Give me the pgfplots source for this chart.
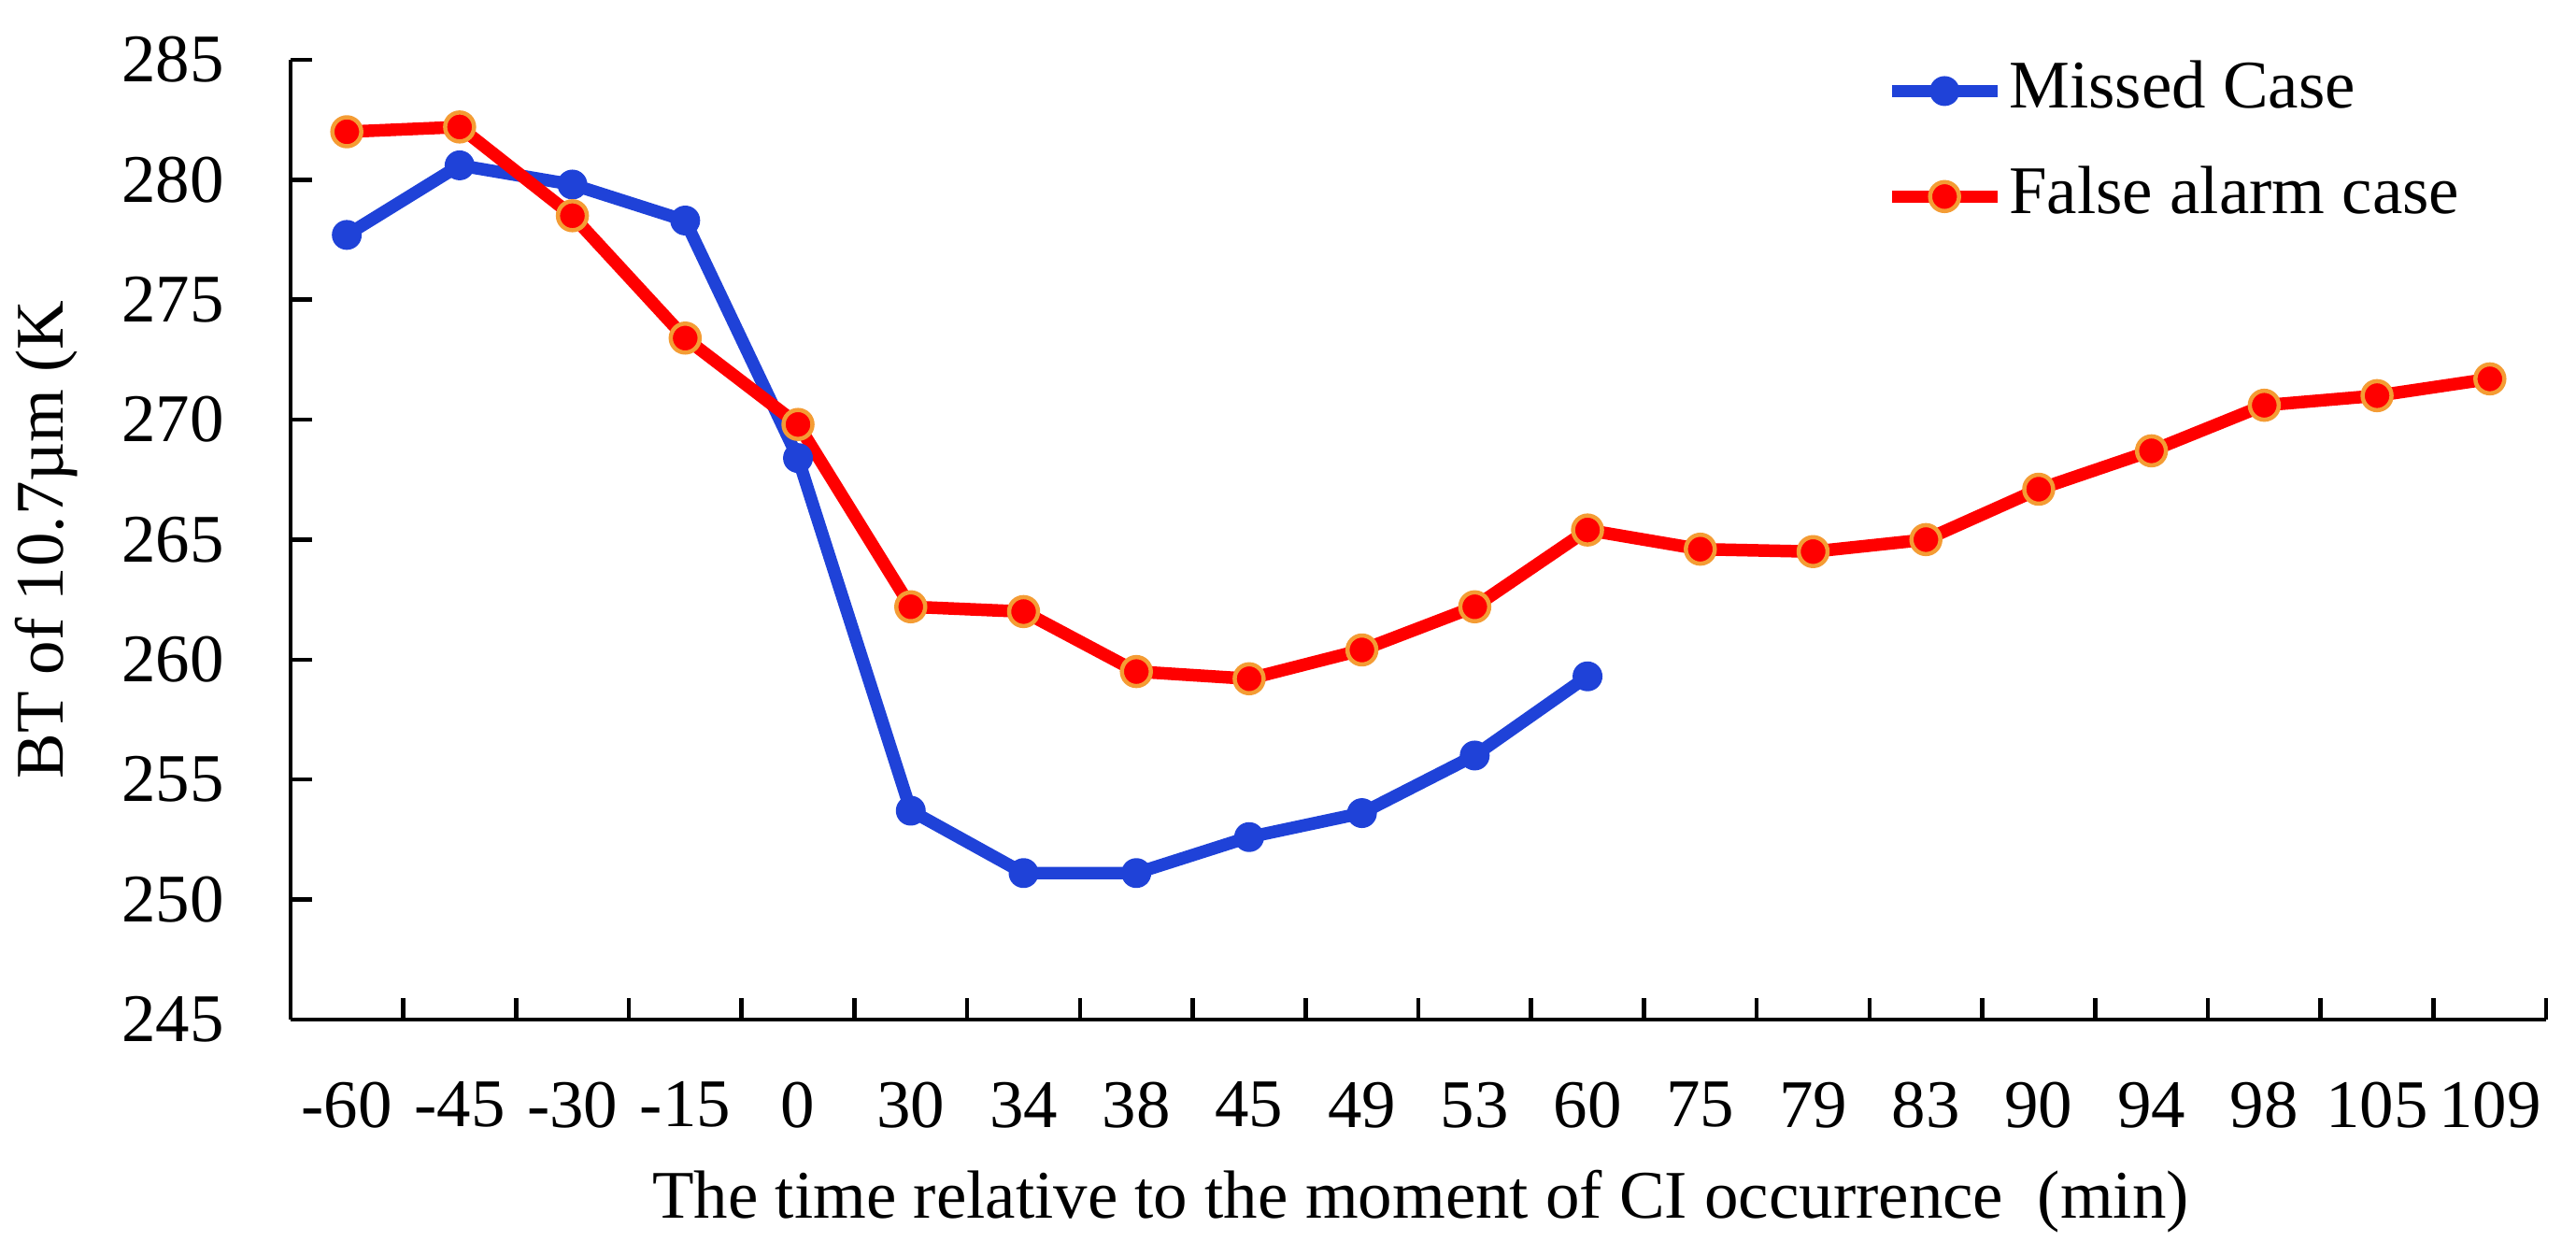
\documentclass[border=0pt]{standalone}
\usepackage{fontspec}
\setmainfont{Liberation Serif}
\usepackage{pgfplots}
\pgfplotsset{compat=1.18}

\definecolor{missblue}{RGB}{31,66,216}
\definecolor{farred}{RGB}{255,0,0}
\definecolor{faredge}{RGB}{244,156,52}

\newcommand{\chartfont}{\fontsize{14.6}{17.5}\selectfont}

\begin{document}
\begin{tikzpicture}
\begin{axis}[
    scale only axis,
    width=483.4pt, height=205.6pt,
    xmin=-0.5, xmax=19.5,
    ymin=245, ymax=285,
    axis lines*=left,
    axis line style={line width=0.9pt},
    clip=false,
    % ticks on the category boundaries, labels shifted back to the centres
    xtick={0.5,1.5,...,19.5},
    xticklabels={-60,-45,-30,-15,0,30,34,38,45,49,53,60,75,79,83,90,94,98,105,109},
    xticklabel style={inner sep=0pt, anchor=north, xshift=-12.085pt, yshift=-13.2pt},
    ytick={245,250,...,285},
    yticklabel style={inner sep=0pt, anchor=east, xshift=-14pt},
    tick align=inside,
    major tick length=4.6pt,
    tick style={line width=0.9pt, black},
    /pgf/number format/assume math mode=true,
    tick label style={font=\chartfont},
    ylabel={BT of 10.7µm (K},
    every axis y label/.style={at={(rel axis cs:-0.108,0.5)}, rotate=90,
        anchor=center, font=\chartfont},
    xlabel={The time relative to the moment of CI occurrence\ \ (min)},
    every axis x label/.style={at={(rel axis cs:0.501,-0.19)},
        anchor=center, font=\chartfont},
    legend cell align=left,
    legend style={at={(rel axis cs:0.7071,1)}, anchor=north west,
        draw=none, fill=none, inner sep=0pt, outer sep=0pt,
        row sep=9.2pt, column sep=1.2pt, font=\chartfont,
        nodes={inner sep=0pt, text height=10.4pt, text depth=3pt}},
    legend image code/.code={\draw[mark repeat=2,mark phase=2,#1]
        plot coordinates {(0pt,0pt) (11.3pt,0pt) (22.6pt,0pt)};},
]
\addplot[missblue, line width=2.7pt, mark=*, mark size=3pt,
    mark options={fill=missblue, draw=missblue, line width=0.4pt}]
    coordinates {(0,277.7) (1,280.6) (2,279.8) (3,278.3) (4,268.4) (5,253.7)
                 (6,251.1) (7,251.1) (8,252.6) (9,253.6) (10,256.0) (11,259.3)};
\addplot[farred, line width=2.7pt, mark=*, mark size=3.1pt,
    mark options={fill=farred, draw=faredge, line width=0.9pt}]
    coordinates {(0,282.0) (1,282.2) (2,278.5) (3,273.4) (4,269.8) (5,262.2)
                 (6,262.0) (7,259.5) (8,259.2) (9,260.4) (10,262.2) (11,265.4)
                 (12,264.6) (13,264.5) (14,265.0) (15,267.1) (16,268.7)
                 (17,270.6) (18,271.0) (19,271.7)};
\legend{Missed Case, False alarm case}
% page frame in axis units, so the page has the reference's margins
\path (rel axis cs:-0.1274,-0.2461) rectangle (rel axis cs:1.0132,1.0623);
\end{axis}
\end{tikzpicture}
\end{document}
